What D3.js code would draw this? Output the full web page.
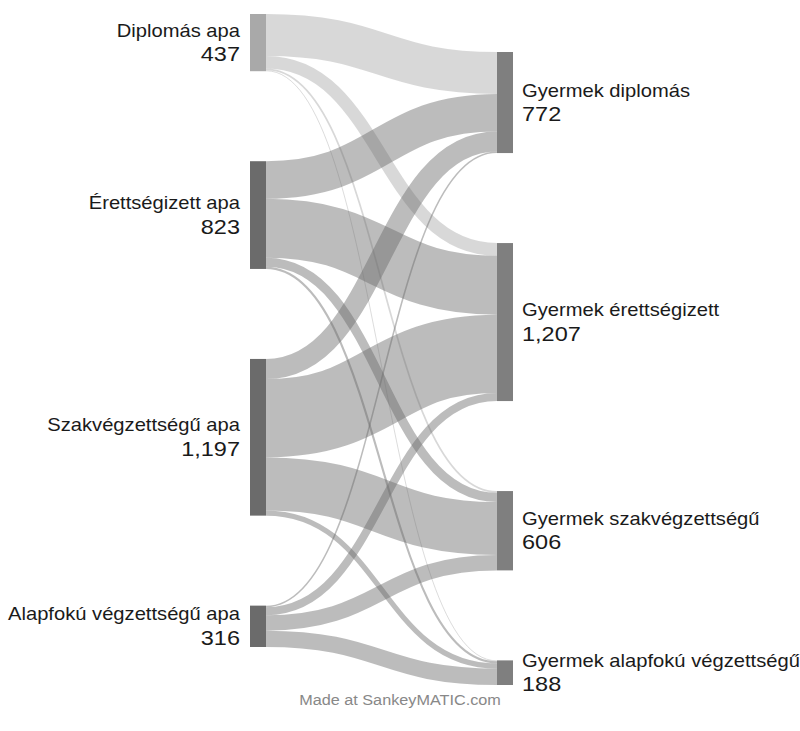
<!DOCTYPE html>
<html lang="hu">
<head>
  <meta charset="UTF-8">
  <title>Sankey</title>
  <script src="https://cdn.jsdelivr.net/npm/d3@7"></script>
  <style>
    body { margin: 0; background: #fff; }
    text { font-family: "Liberation Sans", Arial, sans-serif; }
  </style>
</head>
<body>
  <div id="chart"></div>

  <script>
    const fathers = ['Diplomás apa', 'Érettségizett apa', 'Szakvégzettségű apa', 'Alapfokú végzettségű apa'];
    const children = ['Gyermek diplomás', 'Gyermek érettségizett', 'Gyermek szakvégzettségű', 'Gyermek alapfokú végzettségű'];

    // flows from each father group to the children groups (same order as children)
    const fromDiplomas = [320, 97, 13, 7];
    const fromErettsegi = [287, 450, 70, 16];
    const fromSzakv = [153, 599, 405, 40];
    const fromAlapfoku = [12, 61, 118, 125];

    const width = 800,
      height = 731;

    const flows = [fromDiplomas, fromErettsegi, fromSzakv, fromAlapfoku];
    const leftVals = flows.map(r => d3.sum(r));
    const rightVals = children.map((c, j) => d3.sum(flows, r => r[j]));
    const total = d3.sum(leftVals);

    const nodeW = 16, gap = 90;
    const xLeft = 250, xRight = 497;

    const h = d3.scaleLinear().domain([0, total]).range([0, 363]);

    // stack nodes in each column
    function stack(vals, top) {
      let y = top;
      return vals.map(v => {
        const n = {y0: y, y1: y + h(v), value: v};
        y = n.y1 + gap;
        return n;
      });
    }
    const leftNodes = stack(leftVals, 14);
    const rightNodes = stack(rightVals, 52);

    const links = [];
    const outOff = leftNodes.map(n => n.y0);
    const inOff = rightNodes.map(n => n.y0);
    flows.forEach((row, i) => {
      row.forEach((v, j) => {
        const w = h(v);
        links.push({src: i, value: v, w: w,
          ys: outOff[i] + w / 2, yt: inOff[j] + w / 2});
        outOff[i] += w;
      });
    });
    // target offsets follow source order
    children.forEach((c, j) => {
      let y = rightNodes[j].y0;
      links.filter((l, k) => k % 4 === j).forEach(l => {
        l.yt = y + l.w / 2;
        y += l.w;
      });
    });

    const leftColor = ['#a9a9a9', '#6b6b6b', '#6b6b6b', '#6b6b6b'];
    const rightColor = '#7f7f7f';

    const svg = d3.select('#chart')
      .append('svg')
        .attr('width', width)
        .attr('height', height);

    const link = d3.linkHorizontal()
      .source(d => [xLeft + nodeW, d.ys])
      .target(d => [xRight, d.yt]);

    svg.append('g')
      .attr('fill', 'none')
      .selectAll('path')
      .data(links)
      .join('path')
        .attr('d', link)
        .attr('stroke', d => leftColor[d.src])
        .attr('stroke-opacity', 0.45)
        .attr('stroke-width', d => Math.max(0.6, d.w));

    svg.append('g')
      .selectAll('rect')
      .data(leftNodes)
      .join('rect')
        .attr('x', xLeft)
        .attr('y', d => d.y0)
        .attr('width', nodeW)
        .attr('height', d => d.y1 - d.y0)
        .attr('fill', (d, i) => leftColor[i]);

    svg.append('g')
      .selectAll('rect')
      .data(rightNodes)
      .join('rect')
        .attr('x', xRight)
        .attr('y', d => d.y0)
        .attr('width', nodeW)
        .attr('height', d => d.y1 - d.y0)
        .attr('fill', rightColor);

    const fmt = d3.format(',');
    const sx = 1.12;

    function labels(nodes, names, x, anchor) {
      const g = svg.append('g').attr('fill', '#1a1a1a').attr('text-anchor', anchor);
      nodes.forEach((n, i) => {
        const cy = (n.y0 + n.y1) / 2;
        g.append('text')
          .attr('transform', `translate(${x},${cy - 6}) scale(${sx},1)`)
          .style('font-size', '18px')
          .text(names[i]);
        g.append('text')
          .attr('transform', `translate(${x},${cy + 18.5}) scale(${sx},1)`)
          .style('font-size', '21px')
          .text(fmt(n.value));
      });
    }
    labels(leftNodes, fathers, xLeft - 10, 'end');
    labels(rightNodes, children, xRight + nodeW + 9, 'start');

    svg.append('text')
      .attr('transform', `translate(400,705) scale(${sx},1)`)
      .attr('text-anchor', 'middle')
      .attr('fill', '#888')
      .style('font-size', '14.5px')
      .text('Made at SankeyMATIC.com');
  </script>
</body>
</html>
